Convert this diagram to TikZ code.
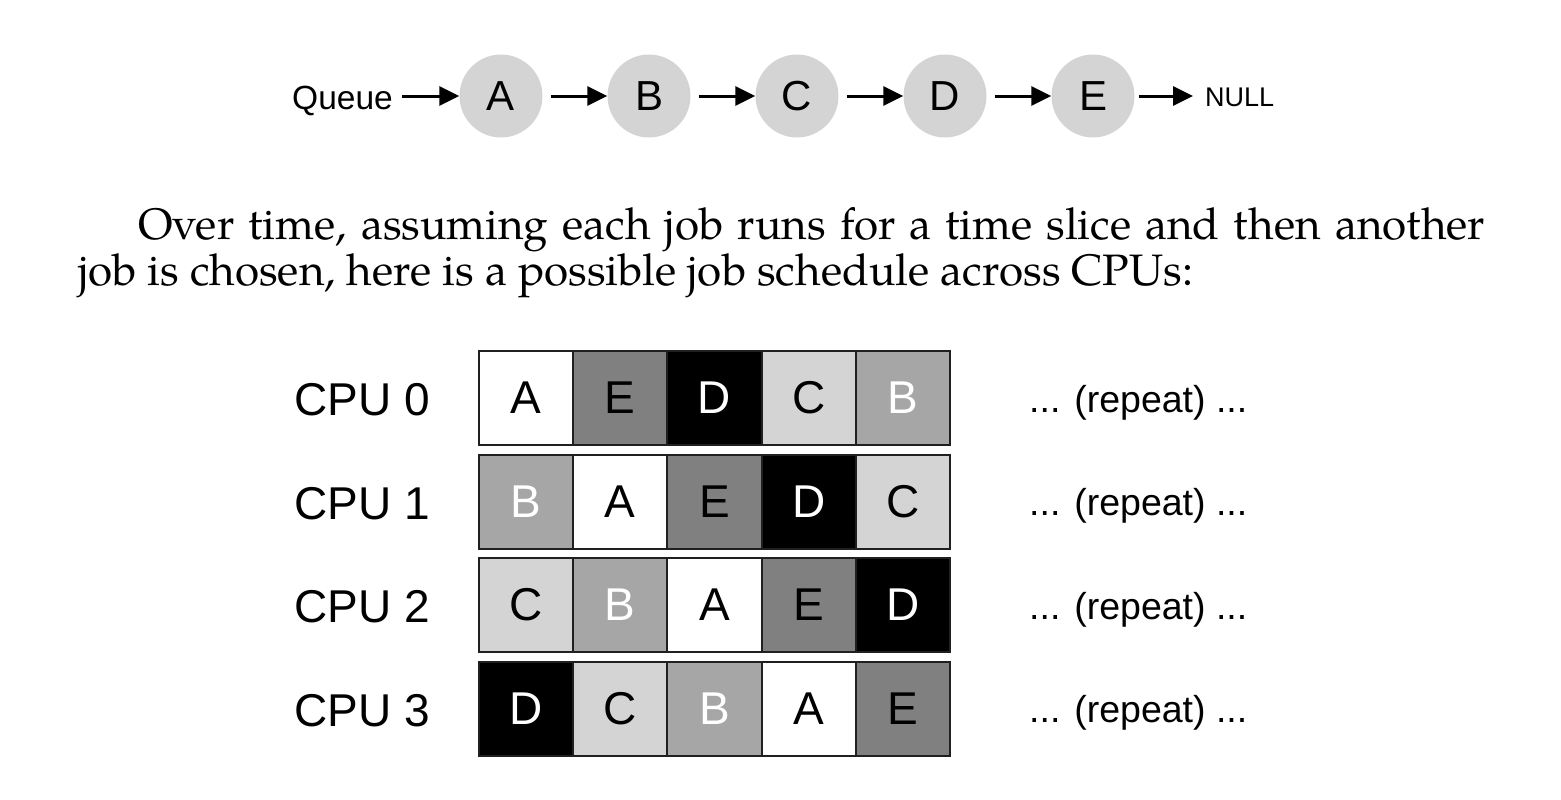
\documentclass[tikz,border=0pt]{standalone}
\usepackage{fontspec}
\setmainfont{TeX Gyre Pagella}
\newfontfamily\arial{Liberation Sans}
\usetikzlibrary{arrows.meta,calc}
\definecolor{lg}{HTML}{D4D4D4}
\definecolor{mg}{HTML}{A6A6A6}
\definecolor{dg}{HTML}{808080}
\definecolor{bd}{HTML}{202020}
\begin{document}
\begin{tikzpicture}[x=1pt,y=-1pt,
  qnode/.style={circle, fill=lg, minimum size=83pt, inner sep=0pt, font=\arial\fontsize{42}{42}\selectfont},
  arr/.style={line width=3pt, -{Triangle[length=20pt,width=19pt]}},
  lbl/.style={inner sep=0pt},
  cell/.style={draw=bd, line width=2pt, minimum width=94.2pt, minimum height=94pt, inner sep=0pt, font=\arial\fontsize{46}{46}\selectfont},
  cA/.style={cell, fill=white, text=black},
  cB/.style={cell, fill=mg, text=white},
  cC/.style={cell, fill=lg, text=black},
  cD/.style={cell, fill=black, text=white},
  cE/.style={cell, fill=dg, text=black},
  cpu/.style={lbl, anchor=west, font=\arial\fontsize{46}{46}\selectfont},
  rep/.style={lbl, anchor=base west, font=\arial\fontsize{37.5}{37.5}\selectfont},
  para/.style={lbl, anchor=base west, font=\fontsize{44}{46}\selectfont}]
\useasboundingbox (0,0) rectangle (1561,800);
% queue
\node[qnode] (A) at (501,96) {A};
\node[qnode] (B) at (649,96) {B};
\node[qnode] (C) at (797,96) {C};
\node[qnode] (D) at (945,96) {D};
\node[qnode] (E) at (1093,96) {E};
\node[lbl, anchor=base east, font=\arial\fontsize{33.5}{33.5}\selectfont] (q) at (393,109) {Queue};
\node[lbl, anchor=base west, font=\arial\fontsize{27}{27}\selectfont] (n) at (1205,106.5) {NULL};
\draw[arr] ($(q.east |- A.west)+(9,0)$) -- (A.west);
\draw[arr] ([xshift=8pt]A.east) -- (B.west);
\draw[arr] ([xshift=8pt]B.east) -- (C.west);
\draw[arr] ([xshift=8pt]C.east) -- (D.west);
\draw[arr] ([xshift=8pt]D.east) -- (E.west);
\draw[arr] ([xshift=4pt]E.east) -- ($(n.west |- E.east)+(-12,0)$);
% paragraph
\node[para] (p1) at (138,239) {\makebox[1347pt][s]{Over time, assuming each job runs for a time slice and then another}};
\node[para] (p2) at (78,285) {job is chosen, here is a possible job schedule across CPUs:};
% schedule
\foreach \r/\row in {0/{A,E,D,C,B},1/{B,A,E,D,C},2/{C,B,A,E,D},3/{D,C,B,A,E}} {
  \node[cpu] (cpu\r) at (294,{400+103.5*\r}) {CPU \r};
  \foreach \l [count=\c from 0] in \row {
    \node[c\l] (r\r c\c) at ({526.1+94.2*\c},{398+103.5*\r}) {\l};
  }
  \node[rep] (rep\r) at (1029,{412+103.5*\r}) {... (repeat) ...};
}
\end{tikzpicture}
\end{document}
